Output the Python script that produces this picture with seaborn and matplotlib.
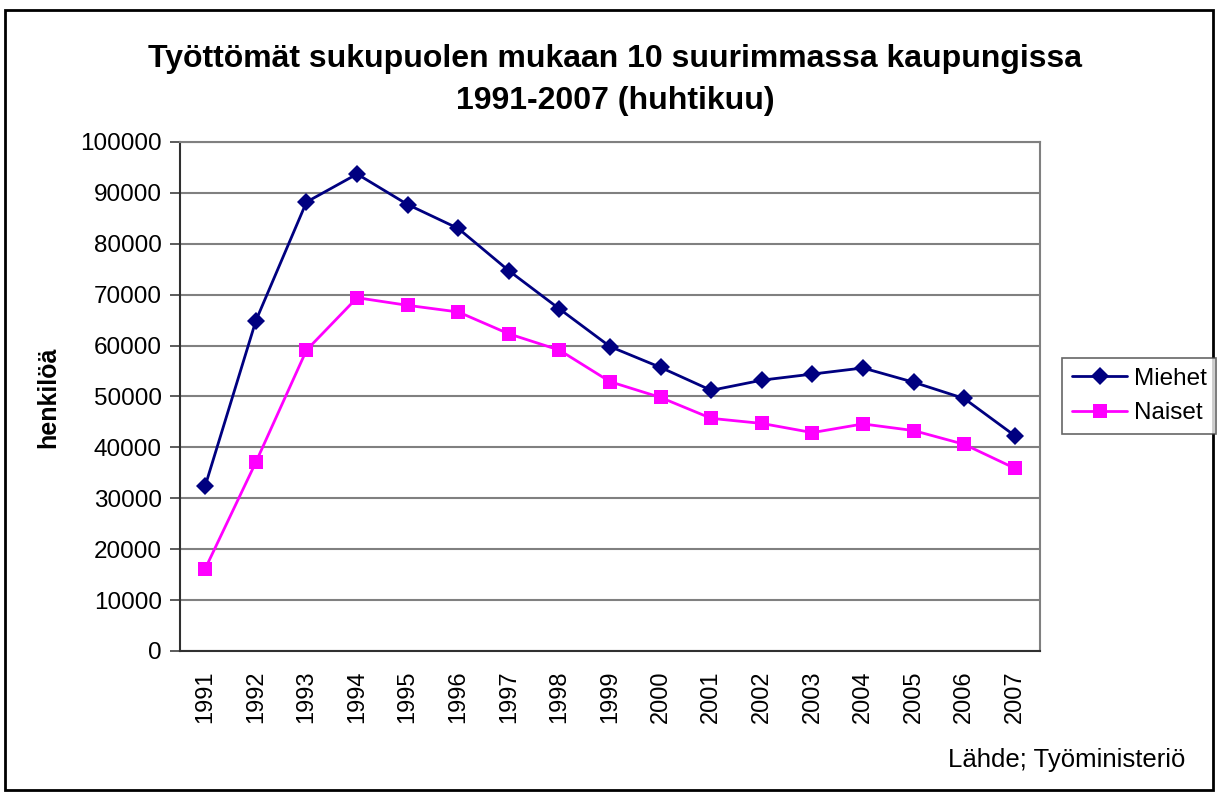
import numpy as np
import pandas as pd
import seaborn as sns
import matplotlib.pyplot as plt
from matplotlib.patches import Rectangle
from matplotlib.lines import Line2D

# Data
vuodet = ['1991', '1992', '1993', '1994', '1995', '1996', '1997', '1998', '1999',
          '2000', '2001', '2002', '2003', '2004', '2005', '2006', '2007']
miehet = [32500, 64900, 88200, 93700, 87700, 83000, 74700, 67200, 59800,
          55700, 51200, 53200, 54400, 55600, 52800, 49600, 42300]
naiset = [16200, 37100, 59100, 69400, 67900, 66600, 62300, 59100, 52900,
          49800, 45700, 44700, 42900, 44600, 43300, 40600, 35900]
y_ticks = list(range(0, 100001, 10000))

df = pd.DataFrame({
    'vuosi': vuodet * 2,
    'henkilöä': miehet + naiset,
    'sukupuoli': ['Miehet'] * len(vuodet) + ['Naiset'] * len(vuodet),
})

sns.set_style('white')
plt.rcParams['font.family'] = ['Liberation Sans', 'DejaVu Sans']
plt.rcParams['text.color'] = 'black'
plt.rcParams['xtick.color'] = 'black'
plt.rcParams['ytick.color'] = 'black'

fig = plt.figure(figsize=(12.18, 7.93), dpi=100)
ax = fig.add_axes([0.1478, 0.1791, 0.7061, 0.6419])

colors = {'Miehet': '#000080', 'Naiset': '#FF00FF'}
sns.lineplot(data=df, x='vuosi', y='henkilöä', hue='sukupuoli', style='sukupuoli',
             markers={'Miehet': 'D', 'Naiset': 's'}, dashes=False, palette=colors,
             markersize=9.5, linewidth=2, markeredgewidth=0, legend=False, ax=ax,
             zorder=3)

# axes styling
ax.set_xlim(-0.5, len(vuodet) - 0.5)
ax.set_ylim(0, 100000)
ax.set_yticks(y_ticks)
ax.set_yticklabels([str(v) for v in y_ticks], fontsize=17.5)
ax.yaxis.grid(True, color='#808080', linewidth=1.5)
ax.set_axisbelow(True)
ax.set_xlabel('')
ax.set_ylabel('')
ax.set_xticks(range(len(vuodet)))
ax.set_xticklabels(vuodet, rotation=90, fontsize=17)
ax.set_xticks(np.arange(-0.5, len(vuodet)), minor=True)
ax.tick_params(axis='x', which='major', length=0, pad=14)
ax.tick_params(axis='x', which='minor', length=8, width=1.2, color='#404040', direction='out')
ax.tick_params(axis='y', length=7, width=1.2, color='#404040', direction='out', left=True, pad=6)
for side in ['left', 'bottom']:
    ax.spines[side].set_color('#303030')
    ax.spines[side].set_linewidth(1.5)
for side in ['right', 'top']:
    ax.spines[side].set_color('#808080')
    ax.spines[side].set_linewidth(1.5)

# titles and texts
fig.text(0.505, 1 - 80 / 793, 'Työttömät sukupuolen mukaan 10 suurimmassa kaupungissa\n1991-2007 (huhtikuu)',
         ha='center', va='center', fontsize=23, fontweight='bold', linespacing=1.55)
fig.text(48 / 1218, 1 - 397 / 793, 'henkilöä', rotation=90, ha='center', va='center',
         fontsize=18, fontweight='bold')
fig.text(1185 / 1218, 1 - 760 / 793, 'Lähde; Työministeriö', ha='right', va='center', fontsize=18.5)

# legend
handles = [Line2D([0], [0], color=colors['Miehet'], marker='D', markersize=9.5, linewidth=2, markeredgewidth=0),
           Line2D([0], [0], color=colors['Naiset'], marker='s', markersize=9.5, linewidth=2, markeredgewidth=0)]
leg = fig.legend(handles, ['Miehet', 'Naiset'], loc='center', bbox_to_anchor=(1139 / 1218, 1 - 396 / 793),
                 fontsize=17.5, frameon=True, fancybox=False, edgecolor='#404040',
                 handlelength=2.3, handletextpad=0.25, borderpad=0.4, labelspacing=0.5,
                 borderaxespad=0)
leg.get_frame().set_linewidth(1.2)

# outer frame
fig.patches.append(Rectangle((5 / 1218, 3 / 793), 1208 / 1218, 780 / 793, transform=fig.transFigure,
                             fill=False, edgecolor='black', linewidth=2))

fig.savefig('out.png', dpi=100)
